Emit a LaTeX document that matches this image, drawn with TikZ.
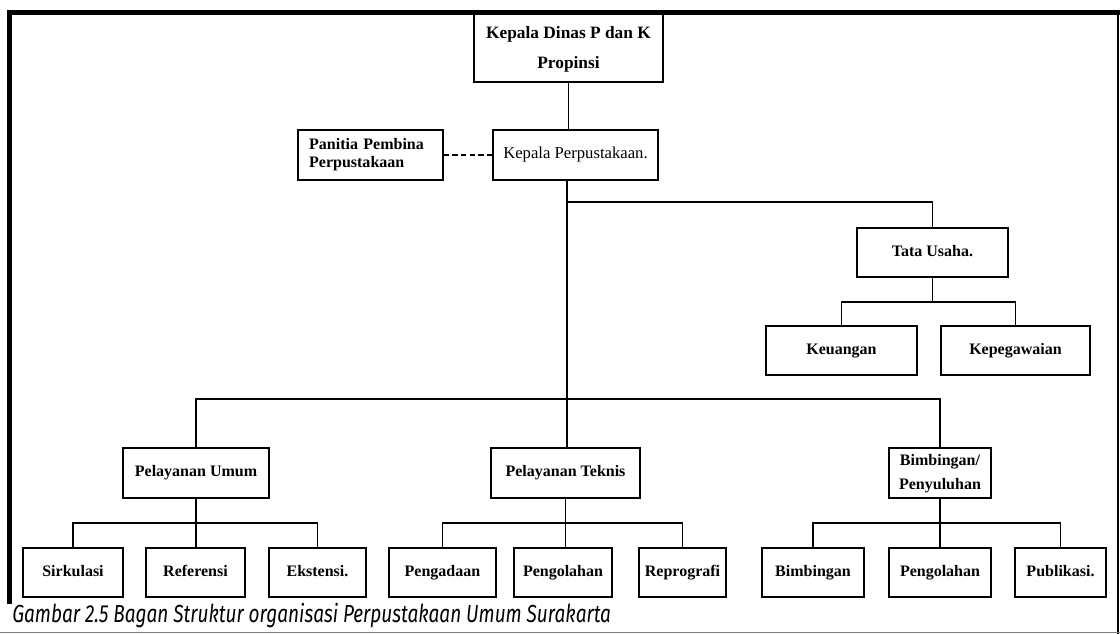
\documentclass[tikz,border=0pt]{standalone}
\usepackage{graphicx}
\usepackage{fontspec}
\setmainfont{Liberation Serif}
\newfontfamily\capfont{Fira Sans}
\usetikzlibrary{calc}
\tikzset{
  box/.style={draw, line width=1.2pt, inner sep=0pt, align=center,
    font=\bfseries\fontsize{12}{14}\selectfont},
  conn/.style={line width=1.2pt},
}
\newcommand\obox[7][]{\node[box,minimum width={(#5-#3)*0.75pt},minimum height={(#6-#4)*0.75pt},#1] (#2) at ({(#3+#5)/2},{(#4+#6)/2}) {\strut#7\strut};}
\begin{document}
\begin{tikzpicture}[x=0.75pt,y=-0.75pt]
\useasboundingbox (0,0) rectangle (1120,634);
% frame
\draw[line width=3.75pt] (9,604) -- (9,13) -- (1120,13);
\draw[line width=2pt] (1118,13) -- (1118,634);
\draw[line width=0.6pt, gray] (0,632) -- (1120,632);
% boxes
\obox[font=\bfseries\fontsize{13}{22.5}\selectfont]{top}{474}{13}{663}{82}{Kepala Dinas P dan K\\Propinsi}
\obox[align=left, text width=92pt, font=\bfseries\fontsize{12}{13.5}\selectfont]{pan}{298}{130}{443}{180}{Panitia Pembina\\Perpustakaan}
\obox[font=\fontsize{12.5}{14}\selectfont]{kp}{493}{130}{658}{180}{Kepala Perpustakaan.}
\obox{tu}{857}{228}{1008}{277}{Tata Usaha.}
\obox{keu}{766}{326}{917}{375}{Keuangan}
\obox{kep}{941}{326}{1090}{375}{Kepegawaian}
\obox{pu}{123}{448}{269}{498}{Pelayanan Umum}
\obox{pt}{491}{448}{640}{498}{Pelayanan Teknis}
\obox[font=\bfseries\fontsize{12}{18}\selectfont]{bp}{889}{448}{991}{498}{Bimbingan/\\Penyuluhan}
\obox{sirk}{23}{548}{123}{597}{Sirkulasi}
\obox{ref}{146}{548}{245}{597}{Referensi}
\obox{eks}{269}{548}{366}{597}{Ekstensi.}
\obox{pgd}{389}{548}{496}{597}{Pengadaan}
\obox{pgl}{514}{548}{612}{597}{Pengolahan}
\obox{rep}{639}{548}{726}{597}{Reprografi}
\obox{bim}{762}{548}{864}{597}{Bimbingan}
\obox{pgb}{889}{548}{991}{597}{Pengolahan}
\obox{pub}{1015}{548}{1106}{597}{Publikasi.}
% connectors
\draw[conn] (top.south) -- (top.south |- kp.north);
\draw[line width=1.2pt, dash pattern=on 4pt off 2.5pt] (pan.east) -- (kp.west);
\coordinate (j1) at (567,202);
\coordinate (j2) at (567,399);
\draw[conn] (kp.south -| j1) -- (j2);
\draw[conn] (j1) -| (tu.north);
\draw[conn] (tu.south) -- ++(0,24) coordinate (tb);
\draw[conn] (keu.north) |- (tb) -| (kep.north);
\draw[conn] (pu.north) |- (j2) -| (bp.north);
\draw[conn] (j2) -- (j2 |- pt.north);
\draw[conn] (pu.south) -- ++(0,24) coordinate (ub);
\draw[conn] (sirk.north) |- (ub) -| (eks.north);
\draw[conn] (ub) -- (ub |- ref.north);
\draw[conn] (pt.south) -- ++(0,24) coordinate (tb2);
\draw[conn] (pgd.north) |- (tb2) -| (rep.north);
\draw[conn] (tb2) -- (tb2 |- pgl.north);
\draw[conn] (bp.south) -- ++(0,24) coordinate (bb);
\draw[conn] (bim.north) |- (bb) -| (pub.north);
\draw[conn] (bb) -- (bb |- pgb.north);
% caption
\node[anchor=base west, inner sep=0pt] (cap) at (12,622) {\resizebox{449pt}{\height}{\fontsize{18.5}{20}\capfont\itshape Gambar 2.5 Bagan Struktur organisasi Perpustakaan Umum Surakarta}};
\end{tikzpicture}
\end{document}
